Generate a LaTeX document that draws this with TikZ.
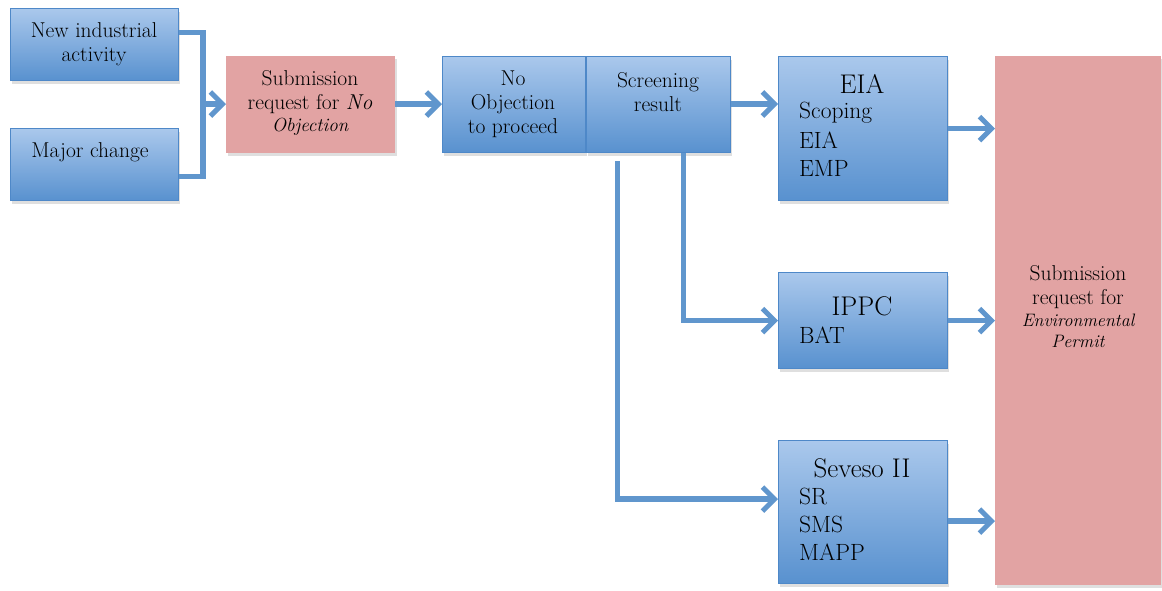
\documentclass[tikz,border=0pt]{standalone}
\usepackage{fontspec}
\usetikzlibrary{arrows.meta,shadows,calc}
\definecolor{boxtop}{RGB}{170,200,236}
\definecolor{boxbot}{RGB}{88,145,207}
\definecolor{boxline}{RGB}{78,136,200}
\definecolor{pinkfill}{RGB}{226,163,163}
\definecolor{connblue}{RGB}{96,150,205}
\tikzset{
  bluebox/.style={draw=boxline, line width=1.2pt, top color=boxtop, bottom color=boxbot,
    drop shadow={shadow xshift=1.5pt, shadow yshift=-3pt, opacity=0.25},
    anchor=north west, inner sep=0pt},
  pinkbox/.style={fill=pinkfill, draw=none,
    drop shadow={shadow xshift=1.5pt, shadow yshift=-3pt, opacity=0.25},
    anchor=north west, inner sep=0pt},
  conn/.style={draw=connblue, line width=5.5pt, line join=miter},
  arr/.style={conn, -{Straight Barb[length=12pt,width=24pt,line width=5pt]}},
  lbl/.style={font=\fontsize{21.5}{24}\selectfont, align=center, inner sep=0pt},
  big/.style={font=\fontsize{27}{28}\selectfont, inner sep=0pt},
  item/.style={font=\fontsize{23.5}{28}\selectfont, inner sep=0pt, anchor=west}
}
\begin{document}
\begin{tikzpicture}[x=1pt,y=-1pt]
\useasboundingbox[fill=white] (0,0) rectangle (1162,590);

% left-hand triggers
\node[bluebox, minimum width=168pt, minimum height=72pt] (nia) at (10,8) {};
\node[lbl] (niat) at (94,44) {New industrial\\activity};
\node[bluebox, minimum width=168pt, minimum height=72pt] (mc) at (10,128) {};
\node[lbl] (mct) at (90,152) {Major change};

% first request
\node[pinkbox, minimum width=169pt, minimum height=97pt] (snoo) at (226,56) {};
\node[lbl] (snoot) at (310,103) {Submission\\request for \textit{No}\\[-2pt]{\fontsize{19}{22}\selectfont\itshape Objection}};

% no objection and screening
\node[bluebox, minimum width=143pt, minimum height=96pt] (noobj) at (442,56) {};
\node[lbl] (noobjt) at (513,104) {No\\Objection\\to proceed};
\node[bluebox, minimum width=144pt, minimum height=96pt] (scr) at (586,56) {};
\node[lbl] (scrt) at (658,92) {Screening\\result};

% assessment boxes
\node[bluebox, minimum width=169pt, minimum height=144pt] (eia) at (778,56) {};
\node[big] (eiah) at (862,84) {EIA};
\node[item] (eia1) at (799,113) {Scoping};
\node[item] (eia2) at (799,140) {EIA};
\node[item] (eia3) at (799,168) {EMP};

\node[bluebox, minimum width=169pt, minimum height=96pt] (ippc) at (778,272) {};
\node[big] (ippch) at (862,306) {IPPC};
\node[item] (ippc1) at (799,335) {BAT};

\node[bluebox, minimum width=169pt, minimum height=143pt] (sev) at (778,440) {};
\node[big] (sevh) at (862,468) {Seveso II};
\node[item] (sev1) at (799,496) {SR};
\node[item] (sev2) at (799,524) {SMS};
\node[item] (sev3) at (799,552) {MAPP};

% final request
\node[pinkbox, minimum width=166pt, minimum height=529pt] (ep) at (995,56) {};
\node[lbl] (ept) at (1078,307) {Submission\\request for\\[-2pt]{\fontsize{18}{21}\selectfont\itshape Environmental}\\[-3pt]{\fontsize{18}{21}\selectfont\itshape Permit}};

% connectors
\coordinate (join) at (203,104);
\coordinate (sevin) at ([yshift=13pt]sev.west);
\coordinate (sevout) at ([yshift=-9pt]sev.east);
\draw[conn] ([yshift=12pt]nia.east) -| (join);
\draw[conn] ([yshift=-12pt]mc.east) -| (join);
\draw[arr] (join) -- (snoo.west |- join);
\draw[arr] (snoo.east |- join) -- (noobj.west |- join);
\draw[arr] (scr.east |- join) -- (eia.west |- join);
\draw[arr] ([xshift=25pt]scr.south) |- (ippc.west);
\draw[arr] ([xshift=-41pt,yshift=-8pt]scr.south) |- (sevin);
\draw[arr] (eia.east) -- (ep.west |- eia.east);
\draw[arr] (ippc.east) -- (ep.west |- ippc.east);
\draw[arr] (sevout) -- (ep.west |- sevout);
\end{tikzpicture}
\end{document}
